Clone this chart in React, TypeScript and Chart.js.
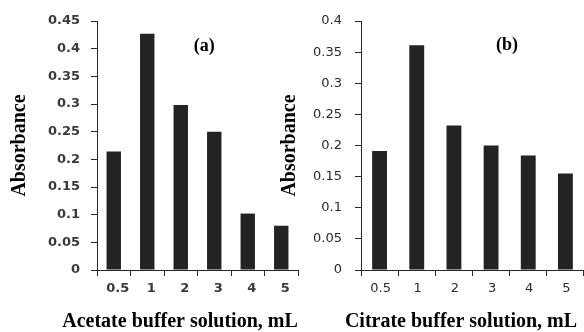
import React, { useEffect, useRef } from 'react';
import { Chart, registerables } from 'chart.js';

Chart.register(...registerables);

// ---- data ----
const categories = ['0.5', '1', '2', '3', '4', '5'];
const acetateAbsorbance = [0.214, 0.427, 0.298, 0.25, 0.102, 0.08];
const citrateAbsorbance = [0.191, 0.361, 0.232, 0.2, 0.184, 0.155];
const yTicksAcetate = [0, 0.05, 0.1, 0.15, 0.2, 0.25, 0.3, 0.35, 0.4, 0.45];
const yTicksCitrate = [0, 0.05, 0.1, 0.15, 0.2, 0.25, 0.3, 0.35, 0.4];
const xTitleAcetate = 'Acetate buffer solution, mL';
const xTitleCitrate = 'Citrate buffer solution, mL';
const yTitleText = 'Absorbance';
const panelTextA = '(a)';
const panelTextB = '(b)';

const panelLabelPlugin = {
  id: 'panelLabel',
  afterDatasetsDraw(chart: any, _args: any, opts: any) {
    if (!opts || !opts.text) return;
    const { ctx, scales } = chart;
    const x = scales.x.getPixelForValue(opts.xValue);
    const y = scales.y.getPixelForValue(opts.yValue);
    ctx.save();
    ctx.font = opts.font;
    ctx.fillStyle = opts.color;
    ctx.textAlign = 'center';
    ctx.textBaseline = 'middle';
    ctx.fillText(opts.text, x, y);
    ctx.restore();
  },
};

type Params = {
  values: number[];
  yTicks: number[];
  yMax: number;
  xTitle: string;
  panelText: string;
  panelX: number;
  panelY: number;
  barPct: number;
  yAxisWidth: number;
  rightPad: number;
  yTitlePad: number;
  yTickPad: number;
  labelOffset: number;
  tickFont: any;
  tickColor: string;
};

function buildConfig(p: Params): any {
  const axisColor = '#262626';
  return {
    type: 'bar',
    data: {
      labels: categories,
      datasets: [
        {
          data: p.values,
          backgroundColor: '#232323',
          borderWidth: 0,
          barPercentage: p.barPct,
          categoryPercentage: 1,
        },
      ],
    },
    plugins: [panelLabelPlugin],
    options: {
      animation: false,
      responsive: true,
      maintainAspectRatio: false,
      layout: { padding: { top: 21, left: 0, right: 0, bottom: 0 } },
      plugins: {
        legend: { display: false },
        tooltip: { enabled: false },
        title: {
          display: true,
          text: p.xTitle,
          position: 'bottom',
          color: '#000',
          font: { family: '"Liberation Serif", "Times New Roman", serif', size: 20, weight: 'bold', lineHeight: 1 },
          padding: 0,
        },
        panelLabel: {
          text: p.panelText,
          xValue: p.panelX,
          yValue: p.panelY,
          font: 'bold 18px "Liberation Serif", serif',
          color: '#000',
        },
      },
      scales: {
        x: {
          grid: {
            display: true,
            drawOnChartArea: false,
            drawTicks: true,
            tickLength: 6,
            color: axisColor,
            offset: true,
          },
          border: { display: true, color: axisColor, width: 1 },
          ticks: {
            font: p.tickFont,
            color: p.tickColor,
            padding: 5,
            labelOffset: p.labelOffset,
            maxRotation: 0,
            autoSkip: false,
          },
          afterFit: (s: any) => {
            s.height = 42;
          },
        },
        y: {
          min: 0,
          max: p.yMax,
          afterBuildTicks: (s: any) => {
            s.ticks = p.yTicks.map((v) => ({ value: v }));
          },
          grid: {
            display: true,
            drawOnChartArea: false,
            drawTicks: true,
            tickLength: 6,
            color: axisColor,
          },
          border: { display: true, color: axisColor, width: 1 },
          ticks: {
            font: p.tickFont,
            color: p.tickColor,
            padding: p.yTickPad,
            callback: (v: any) => String(+Number(v).toFixed(2)),
          },
          title: {
            display: true,
            text: yTitleText,
            color: '#000',
            font: { family: '"Liberation Serif", "Times New Roman", serif', size: 20, weight: 'bold', lineHeight: 1.2 },
            padding: { top: p.yTitlePad, bottom: 0 },
          },
          afterFit: (s: any) => {
            s.width = p.yAxisWidth;
          },
        },
        pad: {
          type: 'linear',
          axis: 'y',
          position: 'right',
          display: true,
          grid: { display: false },
          border: { display: false },
          ticks: { display: false },
          afterFit: (s: any) => {
            s.width = p.rightPad;
          },
        },
      },
    },
  };
}

function ChartPanel({ params, style }: { params: Params; style: React.CSSProperties }) {
  const ref = useRef<HTMLCanvasElement | null>(null);
  useEffect(() => {
    if (!ref.current) return;
    const chart = new Chart(ref.current, buildConfig(params));
    return () => chart.destroy();
  }, []);
  return (
    <div style={{ position: 'absolute', top: 0, ...style }}>
      <canvas ref={ref} />
    </div>
  );
}

const paramsA: Params = {
  values: acetateAbsorbance,
  yTicks: yTicksAcetate,
  yMax: 0.45,
  xTitle: xTitleAcetate,
  panelText: panelTextA,
  panelX: 2.7,
  panelY: 0.405,
  barPct: 0.43,
  yAxisWidth: 97,
  rightPad: 62,
  yTitlePad: 8,
  yTickPad: 11,
  labelOffset: 4,
  tickFont: { family: '"DejaVu Sans", Verdana, sans-serif', size: 13, weight: 'bold' },
  tickColor: '#3a3a3a',
};

const paramsB: Params = {
  values: citrateAbsorbance,
  yTicks: yTicksCitrate,
  yMax: 0.4,
  xTitle: xTitleCitrate,
  panelText: panelTextB,
  panelX: 3.43,
  panelY: 0.3615,
  barPct: 0.4,
  yAxisWidth: 91,
  rightPad: 68,
  yTitlePad: 8,
  yTickPad: 13,
  labelOffset: 1,
  tickFont: { family: '"DejaVu Sans", Verdana, sans-serif', size: 13, weight: 'normal' },
  tickColor: '#2a2a2a',
};

export default function App() {
  return (
    <div
      style={{
        position: 'fixed',
        left: 0,
        top: 0,
        width: 584,
        height: 332,
        overflow: 'hidden',
        background: '#fff',
      }}
    >
      <ChartPanel params={paramsA} style={{ left: 0, width: 360, height: 332 }} />
      <ChartPanel params={paramsB} style={{ left: 270, width: 382, height: 332 }} />
    </div>
  );
}
